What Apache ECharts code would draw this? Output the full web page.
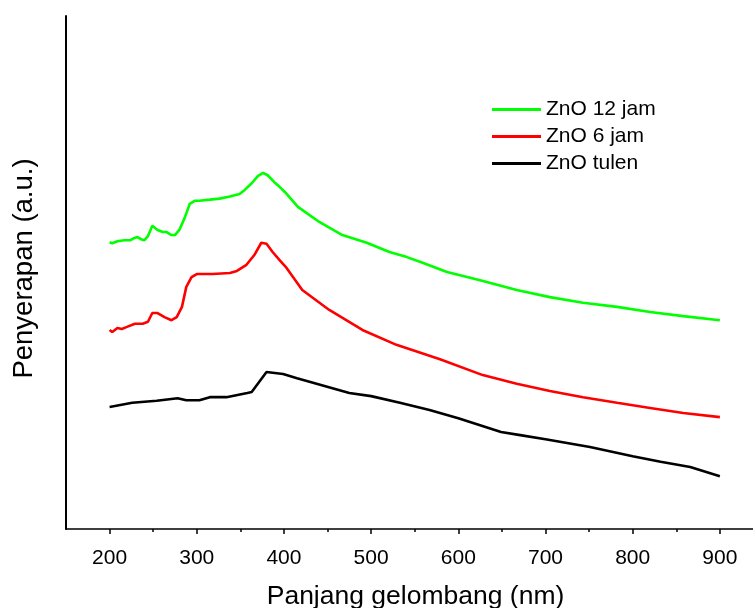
<!DOCTYPE html>
<html>
<head>
<meta charset="utf-8">
<script src="https://cdn.jsdelivr.net/npm/echarts@6/dist/echarts.min.js"></script>
<style>html,body{margin:0;padding:0;background:#fff}#c{width:753px;height:608px}</style>
</head>
<body>
<div id="c"></div>
<script>
var seriesNames = ['ZnO 12 jam', 'ZnO 6 jam', 'ZnO tulen'];
var xMajorTicks = [200, 300, 400, 500, 600, 700, 800, 900];
var xMinorTicks = [250, 350, 450, 550, 650, 750, 850];

var zno12 = [[200,55.9],[203,55.7],[209,56.1],[217,56.3],[224,56.3],[228,56.7],[232,56.9],[236,56.5],[240,56.3],[244,57.1],[249,59.1],[255,58.3],[261,57.9],[265,57.9],[271,57.3],[275,57.3],[280,58.3],[286,60.6],[292,63.4],[298,64.0],[303,64.0],[315,64.2],[326,64.4],[338,64.8],[349,65.3],[355,66.1],[363,67.4],[370,68.8],[376,69.4],[381,69.0],[389,67.6],[395,66.7],[401,65.7],[416,62.8],[441,59.8],[467,57.3],[495,55.8],[521,54.0],[541,53.0],[559,51.9],[587,50.1],[625,48.5],[667,46.6],[705,45.2],[743,44.1],[782,43.3],[820,42.3],[858,41.5],[900,40.7]];

var zno6 = [[200,38.8],[203,38.4],[209,39.2],[214,39.0],[220,39.4],[229,40.0],[238,40.0],[244,40.4],[249,42.1],[255,42.1],[263,41.3],[271,40.7],[277,41.3],[283,43.3],[288,47.2],[294,49.1],[300,49.7],[318,49.7],[338,49.9],[346,50.3],[357,51.5],[366,53.4],[374,55.8],[380,55.6],[387,54.0],[395,52.4],[403,50.9],[421,46.6],[452,42.7],[490,38.8],[529,35.9],[579,33.1],[628,30.0],[667,28.3],[705,26.9],[743,25.7],[782,24.6],[820,23.6],[858,22.6],[900,21.8]];

var znoTulen = [[200,23.8],[226,24.6],[254,25.0],[278,25.5],[288,25.1],[303,25.1],[315,25.7],[334,25.7],[358,26.5],[363,26.7],[380,30.6],[399,30.2],[415,29.4],[475,26.5],[500,25.9],[533,24.6],[567,23.2],[600,21.6],[649,18.9],[671,18.3],[700,17.5],[751,16.0],[800,14.2],[832,13.1],[866,12.1],[900,10.3]];

var colors = ['#00ff00', '#ff0000', '#000000'];
var font = 'Liberation Sans, Arial, sans-serif';

var chart = echarts.init(document.getElementById('c'), null, {renderer: 'canvas'});
var dataSets = [zno12, zno6, znoTulen];
chart.setOption({
  animation: false,
  backgroundColor: '#ffffff',
  grid: {left: 66, top: 16, right: 0, bottom: 79, containLabel: false, outerBoundsMode: 'none'},
  legend: {
    orient: 'vertical',
    left: 492,
    top: 99,
    padding: 0,
    itemWidth: 49,
    itemHeight: 3,
    itemGap: 6,
    itemTextGap: 4,
    icon: 'rect',
    textStyle: {fontFamily: font, fontSize: 21, color: '#000'},
    data: seriesNames
  },
  xAxis: [{
    type: 'value',
    min: 150,
    max: 938,
    position: 'bottom',
    name: 'Panjang gelombang (nm)',
    nameLocation: 'middle',
    nameGap: 54,
    nameTextStyle: {fontFamily: font, fontSize: 26.5, color: '#000', padding: [0, 0, 0, 12]},
    axisLine: {lineStyle: {color: '#000', width: 1.5}},
    axisTick: {show: true, inside: false, length: 5, customValues: xMajorTicks, lineStyle: {color: '#000', width: 1.5}},
    axisLabel: {customValues: xMajorTicks, fontFamily: font, fontSize: 21, color: '#000', margin: 19},
    splitLine: {show: false}
  }, {
    type: 'value',
    min: 150,
    max: 938,
    position: 'bottom',
    offset: 0,
    axisLine: {show: false},
    axisTick: {show: true, inside: false, length: 3, customValues: xMinorTicks, lineStyle: {color: '#000', width: 1.5}},
    axisLabel: {show: false},
    splitLine: {show: false}
  }],
  yAxis: {
    type: 'value',
    min: 0,
    max: 100,
    name: 'Penyerapan (a.u.)',
    nameLocation: 'middle',
    nameRotate: 90,
    nameGap: 22,
    nameTextStyle: {fontFamily: font, fontSize: 27.5, color: '#000', padding: [0, 0, 6, 8]},
    axisLine: {show: true, lineStyle: {color: '#000', width: 2}},
    axisTick: {show: false},
    axisLabel: {show: false},
    splitLine: {show: false}
  },
  series: seriesNames.map(function (n, i) {
    return {
      name: n,
      type: 'line',
      xAxisIndex: 0,
      data: dataSets[i],
      showSymbol: false,
      symbol: 'none',
      color: colors[i],
      lineStyle: {color: colors[i], width: 2.6},
      z: 10 - i
    };
  })
});
</script>
</body>
</html>
